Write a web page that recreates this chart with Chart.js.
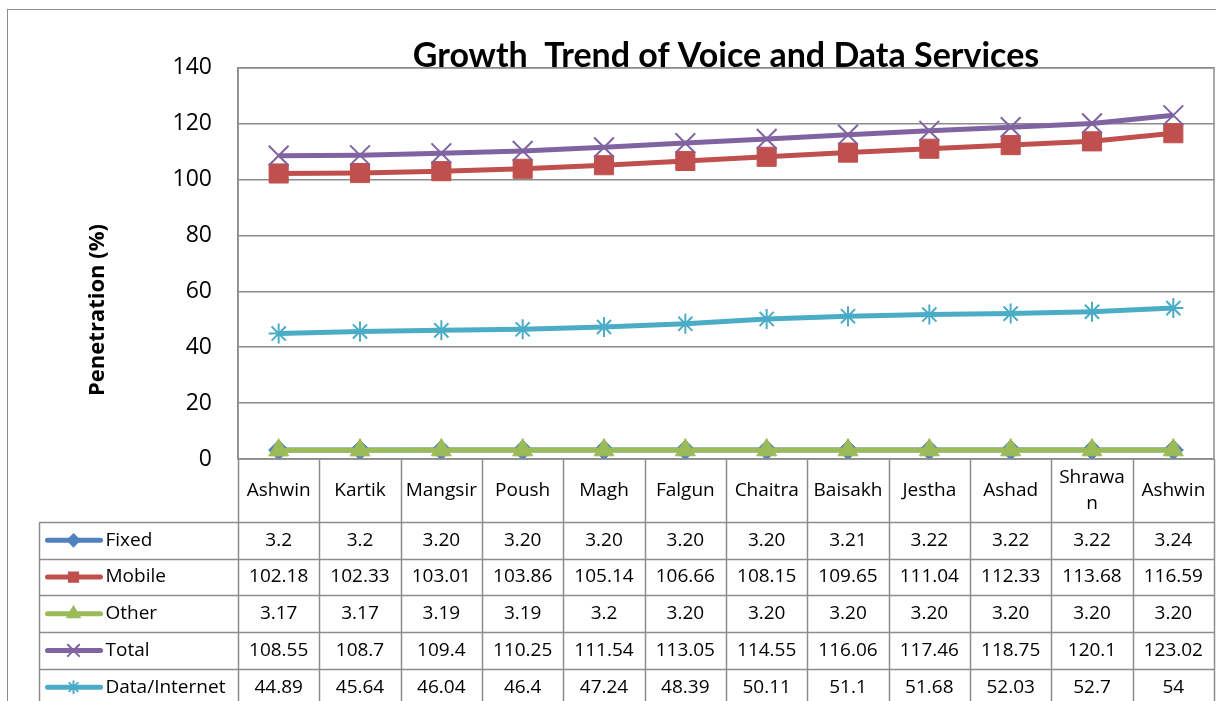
<!DOCTYPE html>
<html lang="en">
<head>
  <meta charset="UTF-8" />
  <meta name="viewport" content="width=device-width, initial-scale=1" />
  <title>Growth Trend of Voice and Data Services</title>
  <script src="https://cdn.jsdelivr.net/npm/chart.js"></script>
  <style>
    html, body {
      margin: 0;
      background: #fff;
      overflow: hidden;
      width: 1216px;
      height: 701px;
    }

    .page {
      position: relative;
      width: 1216px;
      height: 701px;
      overflow: hidden;
    }

    .frame {
      position: absolute;
      left: 7px;
      top: 9px;
      width: 1300px;
      height: 800px;
      border: 1.5px solid #8c8c8c;
    }

    .chart-box {
      position: absolute;
      left: 0;
      top: 0;
      width: 1216px;
      height: 701px;
    }
  </style>
</head>
<body>
  <div class="page">
    <div class="frame"></div>
    <div class="chart-box">
      <canvas id="trendChart" width="1216" height="701"></canvas>
    </div>
  </div>

  <script>
    // months (Nepali calendar) shown in the data table
    const months = ['Ashwin', 'Kartik', 'Mangsir', 'Poush', 'Magh', 'Falgun', 'Chaitra', 'Baisakh', 'Jestha', 'Ashad', 'Shrawan', 'Ashwin'];

    // values kept as strings so the table shows them as printed
    const fixed = ['3.2', '3.2', '3.20', '3.20', '3.20', '3.20', '3.20', '3.21', '3.22', '3.22', '3.22', '3.24'];
    const mobile = ['102.18', '102.33', '103.01', '103.86', '105.14', '106.66', '108.15', '109.65', '111.04', '112.33', '113.68', '116.59'];
    const other = ['3.17', '3.17', '3.19', '3.19', '3.2', '3.20', '3.20', '3.20', '3.20', '3.20', '3.20', '3.20'];
    const total = ['108.55', '108.7', '109.4', '110.25', '111.54', '113.05', '114.55', '116.06', '117.46', '118.75', '120.1', '123.02'];
    const dataInternet = ['44.89', '45.64', '46.04', '46.4', '47.24', '48.39', '50.11', '51.1', '51.68', '52.03', '52.7', '54'];

    const yTicks = [0, 20, 40, 60, 80, 100, 120, 140];

    const FONT = "'Open Sans', 'Liberation Sans', sans-serif";
    const GRID = '#8c8c8c';

    const series = [
      { label: 'Fixed', data: fixed, color: '#4F81BD', style: 'rectRot', radius: 10, small: 6 },
      { label: 'Mobile', data: mobile, color: '#C0504D', style: 'rect', radius: 13.5, small: 6.5 },
      { label: 'Other', data: other, color: '#9BBB59', style: 'triangle', radius: 11.5, small: 7 },
      { label: 'Total', data: total, color: '#8064A2', style: 'crossRot', radius: 14, small: 8 },
      { label: 'Data/Internet', data: dataInternet, color: '#4BACC6', style: 'star', radius: 10, small: 6 }
    ];

    function wrapText(ctx, text, maxW) {
      const lines = [];
      let cur = '';
      for (const ch of text) {
        if (cur && ctx.measureText(cur + ch).width > maxW) {
          lines.push(cur);
          cur = ch;
        } else {
          cur += ch;
        }
      }
      lines.push(cur);
      return lines;
    }

    // data table under the plot + y title + plot border
    const tablePlugin = {
      id: 'dataTable',
      afterDraw(chart) {
        const ctx = chart.ctx;
        const area = chart.chartArea;
        const xs = chart.scales.x;
        const colW = xs.getPixelForValue(1) - xs.getPixelForValue(0);
        const top = area.bottom;
        const catH = 63;
        const rowH = 36.7;
        const labelLeft = 39.5;
        const bottom = chart.height + 5;
        const rowsTop = top + catH;

        ctx.save();
        ctx.strokeStyle = GRID;
        ctx.lineWidth = 1.5;

        // plot area border
        ctx.strokeRect(area.left, area.top, area.right - area.left, area.bottom - area.top);

        // column lines
        for (let i = 0; i <= months.length; i++) {
          const cx = Math.round(xs.getPixelForValue(i) - colW / 2) + 0.5;
          ctx.beginPath();
          ctx.moveTo(cx, top);
          ctx.lineTo(cx, bottom);
          ctx.stroke();
        }
        ctx.beginPath();
        ctx.moveTo(labelLeft, rowsTop);
        ctx.lineTo(labelLeft, bottom);
        ctx.stroke();

        // row lines
        for (let r = 0; r <= series.length; r++) {
          const ry = Math.round(rowsTop + r * rowH) + 0.5;
          ctx.beginPath();
          ctx.moveTo(labelLeft, ry);
          ctx.lineTo(area.right, ry);
          ctx.stroke();
        }

        // category headers
        ctx.fillStyle = '#000';
        ctx.font = '19px ' + FONT;
        ctx.textAlign = 'center';
        ctx.textBaseline = 'middle';
        months.forEach((m, i) => {
          const cx = xs.getPixelForValue(i);
          const lines = wrapText(ctx, m, colW - 6);
          const lh = 26;
          const y0 = top + catH / 2 - (lines.length - 1) * lh / 2;
          lines.forEach((ln, k) => ctx.fillText(ln, cx, y0 + k * lh));
        });

        // series rows
        series.forEach((s, r) => {
          const cy = rowsTop + r * rowH + rowH / 2;

          // legend key
          ctx.strokeStyle = s.color;
          ctx.fillStyle = s.color;
          ctx.lineWidth = 5;
          ctx.lineCap = 'round';
          ctx.beginPath();
          ctx.moveTo(labelLeft + 8, cy);
          ctx.lineTo(labelLeft + 61, cy);
          ctx.stroke();
          ctx.lineWidth = 2;
          Chart.helpers.drawPoint(ctx, { pointStyle: s.style, radius: s.small, rotation: 0, borderWidth: 2 }, labelLeft + 34, cy);

          ctx.fillStyle = '#000';
          ctx.textAlign = 'left';
          ctx.fillText(s.label, labelLeft + 66, cy);

          ctx.textAlign = 'center';
          s.data.forEach((v, i) => {
            ctx.fillText(v, xs.getPixelForValue(i), cy);
          });
        });

        // y axis title
        ctx.translate(98, 310);
        ctx.rotate(-Math.PI / 2);
        ctx.font = 'bold 22px ' + FONT;
        ctx.fillText('Penetration (%)', 0, 0);
        ctx.restore();
      }
    };

    const ctx = document.getElementById('trendChart').getContext('2d');

    const chart = new Chart(ctx, {
      type: 'line',
      data: {
        labels: months,
        datasets: series.map((s, i) => ({
          label: s.label,
          data: s.data,
          borderColor: s.color,
          backgroundColor: s.color,
          borderWidth: 5,
          tension: 0,
          pointStyle: s.style,
          pointRadius: s.radius,
          pointHoverRadius: s.radius,
          pointBackgroundColor: s.color,
          pointBorderColor: s.color,
          pointBorderWidth: (s.style === 'crossRot' || s.style === 'star') ? 2 : 1,
          order: series.length - i
        }))
      },
      options: {
        responsive: false,
        animation: false,
        layout: {
          autoPadding: false,
          padding: { left: 0, right: 2, top: 0, bottom: 242 }
        },
        plugins: {
          legend: { display: false },
          tooltip: { enabled: false },
          title: {
            display: true,
            text: 'Growth  Trend of Voice and Data Services',
            fullSize: false,
            color: '#000',
            font: { family: "Lato, 'Open Sans', sans-serif", size: 34, weight: 'bold' },
            padding: { top: 36, bottom: -9 }
          }
        },
        scales: {
          x: {
            display: false,
            offset: true
          },
          y: {
            min: yTicks[0],
            max: yTicks[yTicks.length - 1],
            afterFit(scale) { scale.width = 238; },
            afterBuildTicks(scale) { scale.ticks = yTicks.map(v => ({ value: v })); },
            grid: { color: GRID, lineWidth: 1.5, drawTicks: false },
            border: { color: GRID, width: 1.5 },
            ticks: {
              color: '#000',
              padding: 26,
              font: { family: FONT, size: 23 }
            }
          }
        }
      },
      plugins: [tablePlugin]
    });
  </script>
</body>
</html>
